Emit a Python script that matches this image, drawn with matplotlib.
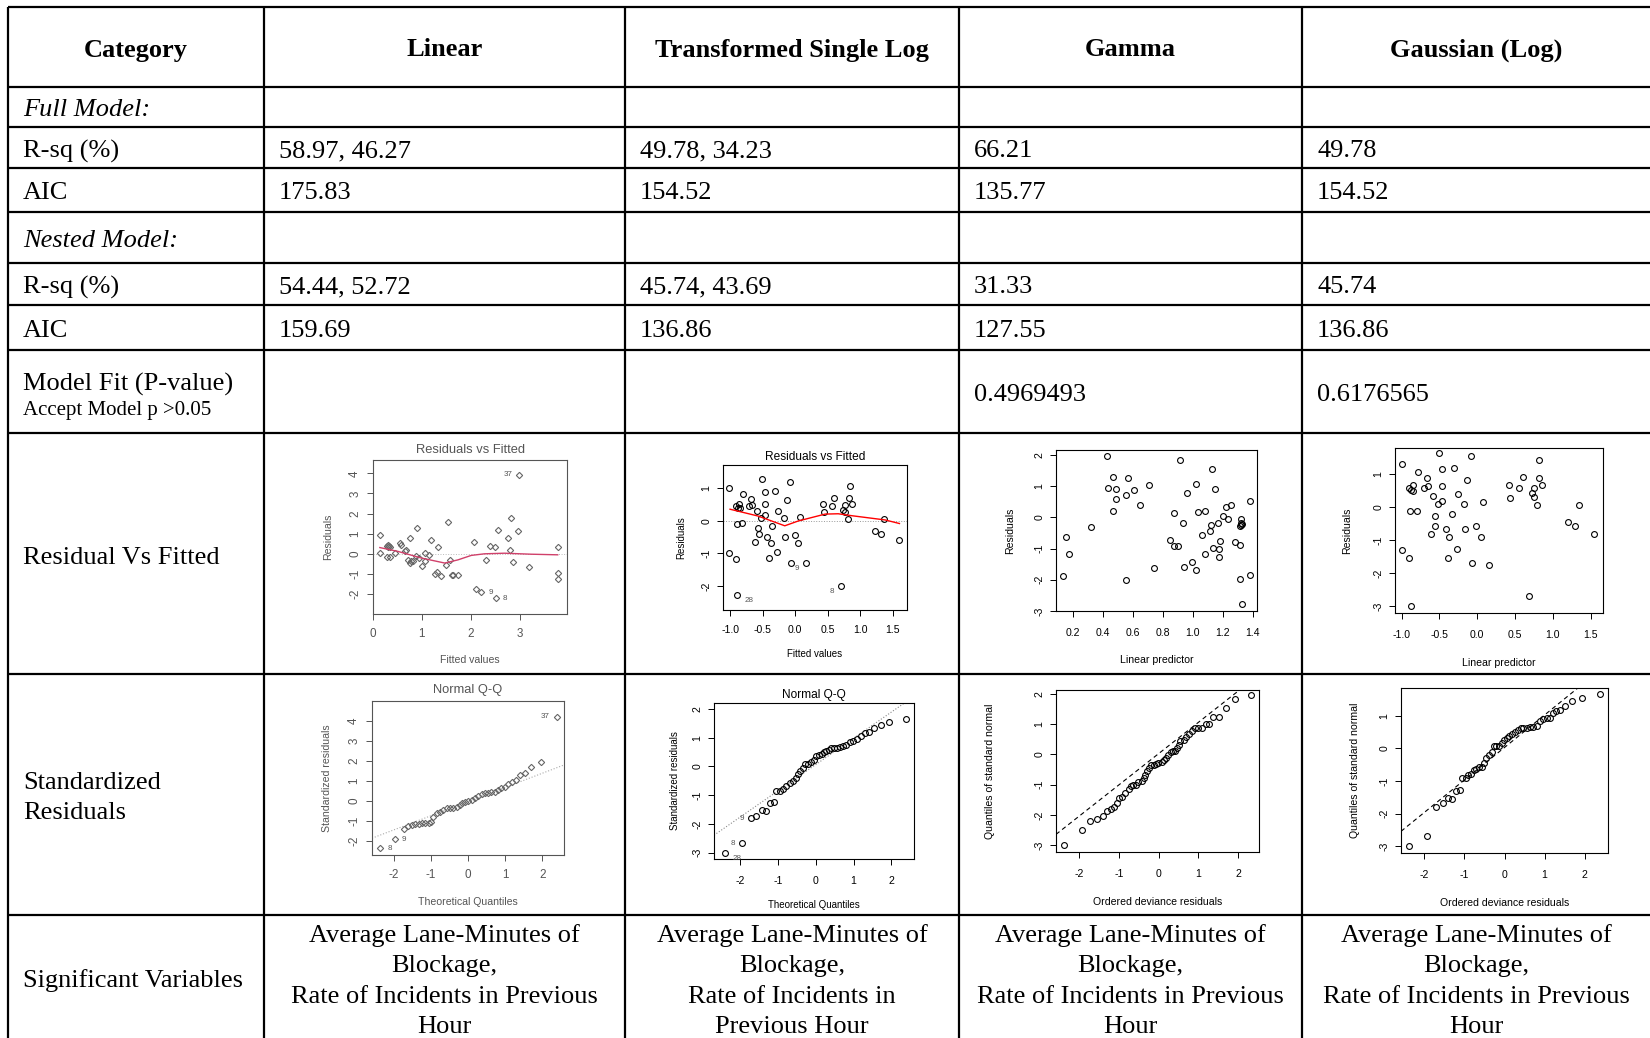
import matplotlib
matplotlib.use("Agg")
import matplotlib.pyplot as plt

plt.rcParams['axes.unicode_minus'] = False

W, H = 1650, 1038
SERIF = 'Liberation Serif'
SANS = 'Liberation Sans'

# ---------- table text ----------
headers = ["Category", "Linear", "Transformed Single Log", "Gamma", "Gaussian (Log)"]
rsq_full = ["58.97, 46.27", "49.78, 34.23", "66.21", "49.78"]
aic_full = ["175.83", "154.52", "135.77", "154.52"]
rsq_nested = ["54.44, 52.72", "45.74, 43.69", "31.33", "45.74"]
aic_nested = ["159.69", "136.86", "127.55", "136.86"]
p_values = ["", "", "0.4969493", "0.6176565"]
sig_vars = [
    "Average Lane-Minutes of\nBlockage,\nRate of Incidents in Previous\nHour",
    "Average Lane-Minutes of\nBlockage,\nRate of Incidents in\nPrevious Hour",
    "Average Lane-Minutes of\nBlockage,\nRate of Incidents in Previous\nHour",
    "Average Lane-Minutes of\nBlockage,\nRate of Incidents in Previous\nHour",
]

# ---------- Linear: residuals vs fitted ----------
lin_fit = [0.15, 0.15, 0.28, 0.29, 0.30, 0.31, 0.33, 0.34, 0.35, 0.44,
           0.55, 0.58, 0.65, 0.68, 0.72, 0.76, 0.76, 0.78, 0.82, 0.89,
           0.90, 0.94, 1.01, 1.06, 1.06, 1.14, 1.19, 1.27, 1.30, 1.33,
           1.40, 1.50, 1.53, 1.57, 1.62, 1.64, 1.74, 2.07, 2.11, 2.22,
           2.32, 2.39, 2.49, 2.52, 2.56, 2.76, 2.80, 2.83, 2.86, 2.97,
           2.99, 3.20, 3.78, 3.78, 3.78]
lin_res = [0.94, 0.03, 0.40, -0.18, 0.42, 0.36, 0.38, -0.18, 0.33, 0.02,
           0.56, 0.45, 0.15, 0.20, -0.30, 0.78, -0.46, -0.35, -0.38, -0.13,
           1.30, -0.21, -0.63, 0.03, -0.38, -0.05, 0.69, -1.01, -0.91, 0.33,
           -1.12, -0.55, 1.57, -0.30, -1.04, -1.04, -1.07, 0.61, -1.75, -1.90,
           -0.30, 0.41, 0.36, -2.20, 1.19, 0.78, 0.20, 1.80, -0.41, 1.11,
           3.92, -0.68, 0.33, -0.96, -1.24]
lin_smooth_x = [0.14, 0.51, 0.99, 1.47, 1.74, 2.01, 2.28, 2.69, 3.24, 3.78]
lin_smooth_y = [0.31, 0.12, -0.21, -0.46, -0.30, -0.08, 0.00, 0.03, -0.02, -0.05]
lin_labels = [(39, "9", 'r'), (43, "8", 'r'), (50, "37", 'l')]

# ---------- Transformed single log: residuals vs fitted ----------
tr_fit = [-1.01, -1.01, -0.91, -0.90, -0.91, -0.89, -0.88, -0.86, -0.85, -0.80,
          -0.81, -0.71, -0.68, -0.66, -0.62, -0.59, -0.57, -0.56, -0.52, -0.51,
          -0.47, -0.47, -0.47, -0.43, -0.40, -0.37, -0.35, -0.31, -0.28, -0.26,
          -0.17, -0.16, -0.13, -0.08, -0.07, -0.01, 0.05, 0.07, 0.16, 0.43,
          0.44, 0.56, 0.60, 0.71, 0.74, 0.77, 0.77, 0.81, 0.83, 0.84,
          0.87, 1.22, 1.32, 1.37, 1.59]
tr_res = [1.00, -0.98, 0.46, -0.10, -1.17, -2.28, 0.41, 0.52, 0.39, 0.83,
          -0.07, 0.46, 0.67, 0.49, -0.64, 0.29, -0.21, -0.41, 0.08, 1.28,
          0.88, 0.51, 0.18, -0.49, -1.13, -0.69, -0.15, 0.92, -0.96, 0.31,
          0.08, -0.49, 0.65, 1.21, -1.28, -0.43, -0.68, 0.13, -1.30, 0.52,
          0.26, 0.46, 0.72, -1.99, 0.34, 0.49, 0.27, 0.06, 0.70, 1.08,
          0.52, -0.30, -0.39, 0.06, -0.58]
tr_smooth_x = [-1.00, -0.57, -0.16, 0.05, 0.46, 0.66, 0.87, 1.38, 1.60]
tr_smooth_y = [0.36, 0.15, -0.15, 0.00, 0.21, 0.22, 0.16, 0.03, -0.08]
tr_labels = [(5, "28", 'rb'), (38, "9", 'lb'), (43, "8", 'lb')]

# ---------- Gamma: residuals vs linear predictor ----------
gam_lp = [0.133, 0.155, 0.171, 0.32, 0.427, 0.432, 0.467, 0.467, 0.49, 0.49,
          0.556, 0.556, 0.565, 0.61, 0.65, 0.706, 0.739, 0.85, 0.877, 0.877,
          0.90, 0.913, 0.935, 0.94, 0.96, 0.995, 1.02, 1.024, 1.033, 1.064,
          1.08, 1.082, 1.118, 1.122, 1.128, 1.133, 1.15, 1.17, 1.175, 1.175,
          1.18, 1.20, 1.22, 1.233, 1.256, 1.282, 1.313, 1.313, 1.322, 1.322,
          1.322, 1.33, 1.318, 1.331, 1.385, 1.385]
gam_res = [-1.87, -0.63, -1.17, -0.30, 1.98, 0.93, 1.30, 0.19, 0.90, 0.60,
           -2.00, 0.72, 1.26, 0.87, 0.40, 1.03, -1.63, -0.71, 0.14, -0.93,
           -0.93, 1.85, -0.19, -1.60, 0.77, -1.44, -1.68, 1.06, 0.17, -0.56,
           -1.16, 0.20, -0.44, -0.23, 1.55, -0.98, 0.90, -0.19, -1.01, -1.28,
           -0.76, 0.05, 0.32, -0.05, 0.40, -0.79, -0.89, -0.29, -0.06, -0.18,
           -0.24, -0.21, -1.96, -2.77, 0.52, -1.85]

# ---------- Gaussian (log): residuals vs linear predictor ----------
gau_lp = [-0.99, -0.99, -0.90, -0.90, -0.89, -0.88, -0.88, -0.85, -0.85, -0.80,
          -0.78, -0.71, -0.67, -0.65, -0.61, -0.58, -0.56, -0.56, -0.52, -0.50,
          -0.46, -0.46, -0.46, -0.42, -0.39, -0.37, -0.34, -0.31, -0.27, -0.26,
          -0.17, -0.16, -0.13, -0.08, -0.07, -0.02, 0.05, 0.07, 0.15, 0.42,
          0.43, 0.55, 0.60, 0.69, 0.72, 0.75, 0.75, 0.79, 0.81, 0.82,
          0.85, 1.20, 1.29, 1.34, 1.55]
gau_res = [1.31, -1.29, 0.60, -1.52, -0.12, -2.98, 0.52, 0.50, 0.69, -0.10,
           1.07, 0.60, 0.89, 0.64, -0.81, 0.35, -0.27, -0.56, 0.09, 1.65,
           1.15, 0.64, 0.20, -0.64, -1.52, -0.89, -0.20, 1.18, -1.26, 0.41,
           0.09, -0.65, 0.84, 1.55, -1.67, -0.57, -0.89, 0.17, -1.76, 0.69,
           0.30, 0.59, 0.91, -2.67, 0.44, 0.60, 0.32, 0.06, 0.88, 1.45,
           0.67, -0.44, -0.56, 0.06, -0.81]

# ---------- Q-Q plots ----------
lin_qx = [-2.36, -1.96, -1.73, -1.60, -1.51, -1.42, -1.33, -1.24, -1.15, -1.06,
          -0.99, -0.93, -0.84, -0.75, -0.66, -0.57, -0.48, -0.39, -0.30, -0.21,
          -0.15, -0.08, 0.01, 0.10, 0.19, 0.28, 0.37, 0.46, 0.54, 0.63,
          0.72, 0.81, 0.90, 0.99, 1.08, 1.17, 1.28, 1.39, 1.53, 1.69,
          1.96, 2.38]
lin_qy = [-2.36, -1.91, -1.39, -1.24, -1.20, -1.16, -1.13, -1.11, -1.08, -1.08,
          -1.03, -0.78, -0.61, -0.53, -0.45, -0.37, -0.37, -0.33, -0.28, -0.20,
          -0.12, -0.03, 0.00, 0.05, 0.17, 0.27, 0.33, 0.38, 0.38, 0.43,
          0.46, 0.55, 0.63, 0.71, 0.83, 0.93, 1.05, 1.29, 1.38, 1.71,
          1.93, 4.20]
lin_qline = (-0.03, 0.707)
lin_qlabels = [(0, "8", 'r'), (1, "9", 'r'), (41, "37", 'l')]

tr_qx = [-2.40, -1.96, -1.73, -1.58, -1.43, -1.31, -1.22, -1.12, -1.05, -0.96,
         -0.87, -0.78, -0.69, -0.60, -0.52, -0.47, -0.41, -0.34, -0.30, -0.21,
         -0.12, -0.05, 0.01, 0.07, 0.15, 0.21, 0.28, 0.34, 0.41, 0.48,
         0.56, 0.63, 0.72, 0.81, 0.90, 0.98, 1.09, 1.19, 1.29, 1.41,
         1.54, 1.72, 1.94, 2.40]
tr_qy = [-3.00, -2.67, -1.80, -1.71, -1.51, -1.55, -1.28, -1.24, -0.87, -0.85,
         -0.79, -0.67, -0.58, -0.52, -0.41, -0.27, -0.17, -0.06, 0.08, 0.08,
         0.15, 0.21, 0.35, 0.41, 0.43, 0.50, 0.55, 0.58, 0.64, 0.64,
         0.66, 0.69, 0.71, 0.76, 0.85, 0.90, 0.95, 1.07, 1.15, 1.19,
         1.34, 1.45, 1.56, 1.67]
tr_qline = (0.07, 0.912)
tr_qlabels = [(0, "28", 'rb'), (1, "8", 'l'), (2, "9", 'l')]

gam_qx = [-2.39, -1.93, -1.72, -1.56, -1.41, -1.31, -1.21, -1.12, -1.05, -0.99,
          -0.92, -0.85, -0.76, -0.69, -0.64, -0.57, -0.51, -0.43, -0.38, -0.34,
          -0.30, -0.24, -0.20, -0.13, -0.07, -0.01, 0.08, 0.13, 0.18, 0.24,
          0.30, 0.37, 0.41, 0.47, 0.52, 0.55, 0.64, 0.70, 0.77, 0.83,
          0.91, 0.99, 1.10, 1.19, 1.27, 1.37, 1.52, 1.69, 1.92, 2.33]
gam_qy = [-3.00, -2.48, -2.21, -2.12, -2.02, -1.88, -1.80, -1.74, -1.60, -1.44,
          -1.42, -1.27, -1.13, -1.05, -1.00, -1.00, -0.91, -0.87, -0.78, -0.67,
          -0.56, -0.45, -0.34, -0.34, -0.31, -0.29, -0.25, -0.18, -0.10, -0.01,
          0.08, 0.12, 0.10, 0.23, 0.32, 0.43, 0.48, 0.59, 0.67, 0.76,
          0.87, 0.87, 0.89, 1.01, 1.00, 1.25, 1.25, 1.53, 1.84, 1.95]
gam_qline = (0.03, 1.03)

gau_qx = [-2.39, -1.93, -1.72, -1.54, -1.42, -1.30, -1.21, -1.11, -1.05, -0.97,
          -0.90, -0.84, -0.76, -0.70, -0.64, -0.57, -0.51, -0.45, -0.39, -0.32,
          -0.26, -0.20, -0.13, -0.07, -0.02, 0.05, 0.12, 0.19, 0.26, 0.34,
          0.40, 0.46, 0.55, 0.63, 0.71, 0.80, 0.88, 0.96, 1.06, 1.13,
          1.21, 1.28, 1.38, 1.52, 1.69, 1.94, 2.37]
gau_qy = [-3.00, -2.69, -1.78, -1.67, -1.52, -1.54, -1.30, -1.27, -0.91, -0.89,
          -0.81, -0.78, -0.65, -0.63, -0.57, -0.58, -0.45, -0.30, -0.19, -0.11,
          0.06, 0.08, 0.09, 0.16, 0.27, 0.32, 0.37, 0.44, 0.50, 0.57,
          0.62, 0.62, 0.64, 0.67, 0.67, 0.70, 0.85, 0.90, 0.93, 0.93,
          1.08, 1.16, 1.18, 1.29, 1.44, 1.54, 1.66]
gau_qline = (0.03, 0.995)

# ---------- figure + table grid ----------
fig = plt.figure(figsize=(16.5, 10.38), dpi=100)
bg = fig.add_axes([0, 0, 1, 1])
bg.set_xlim(0, W)
bg.set_ylim(H, 0)
bg.axis('off')

cols = [8, 264, 625, 959, 1302]
rows = [7, 87, 127, 168, 212, 263, 305, 350, 433, 674, 915]
for y in rows:
    bg.plot([cols[0], W], [y, y], color='black', lw=1.6, solid_capstyle='butt')
for x in cols:
    bg.plot([x, x], [rows[0], H], color='black', lw=1.6, solid_capstyle='butt')

edges = cols + [W]
centers = [(edges[i] + edges[i + 1]) / 2 for i in range(5)]
lefts = [c + 15 for c in cols]

def cell(x, y, s, **kw):
    kw.setdefault('fontsize', 19)
    kw.setdefault('ha', 'left')
    bg.text(x, y + 3, s, family=SERIF, va='center', **kw)

for i, h in enumerate(headers):
    cell(centers[i], 47, h, ha='center', fontweight='bold')

cell(lefts[0], 107, "Full Model:", style='italic')
cell(lefts[0], 148, "R-sq (%)")
cell(lefts[0], 190, "AIC")
cell(lefts[0], 238, "Nested Model:", style='italic')
cell(lefts[0], 284, "R-sq (%)")
cell(lefts[0], 328, "AIC")
cell(lefts[0], 381, "Model Fit (P-value)")
cell(lefts[0], 408, "Accept Model p >0.05", fontsize=15)
cell(lefts[0], 555, "Residual Vs Fitted")
cell(lefts[0], 795, "Standardized\nResiduals", linespacing=1.42)
cell(lefts[0], 978, "Significant Variables")

for i in range(4):
    cell(lefts[i + 1], 148, rsq_full[i])
    cell(lefts[i + 1], 190, aic_full[i])
    cell(lefts[i + 1], 284, rsq_nested[i])
    cell(lefts[i + 1], 328, aic_nested[i])
    cell(lefts[i + 1], 392, p_values[i])
    cell(centers[i + 1], 978, sig_vars[i], ha='center', linespacing=1.49)


# ---------- small R-style plots ----------
def r_axes(box, xlim, ylim, xt, yt, fmt, color='black', fs=7.6, xpad=7):
    x0, y0, x1, y1 = box
    ax = fig.add_axes([x0 / W, 1 - y1 / H, (x1 - x0) / W, (y1 - y0) / H])
    ax.set_xlim(xlim)
    ax.set_ylim(ylim)
    ax.set_xticks(xt)
    ax.set_xticklabels([fmt.format(v) for v in xt], family=SANS)
    ax.set_yticks(yt)
    ax.set_yticklabels([str(v) for v in yt], family=SANS, rotation=90, va='center')
    ax.tick_params(direction='out', length=4.5, width=0.7, labelsize=fs, colors=color)
    ax.tick_params(axis='x', pad=xpad)
    ax.tick_params(axis='y', pad=4)
    for s in ax.spines.values():
        s.set_linewidth(0.8)
        s.set_color(color)
    return ax

def labels(box, title, xlab, ylab, tpos, xpos, ypos, color='black', tfs=9, fs=7.6):
    x0, y0, x1, y1 = box
    if title:
        bg.text((x0 + x1) / 2, tpos, title, family=SANS, fontsize=tfs, color=color,
                ha='center', va='center')
    bg.text((x0 + x1) / 2, xpos, xlab, family=SANS, fontsize=fs, color=color,
            ha='center', va='center')
    bg.text(ypos, (y0 + y1) / 2, ylab, family=SANS, fontsize=fs, color=color,
            ha='center', va='center', rotation=90)

def pts(ax, x, y, marker='o', color='black', ms=4.2):
    ax.plot(x, y, ls='none', marker=marker, ms=ms, mfc='none', mec=color, mew=0.8)

def tags(ax, x, y, lab, color='#555555'):
    for i, t, side in lab:
        dx = -5 if side.startswith('l') else 5
        dy = -4 if side.endswith('b') else 0
        ax.annotate(t, (x[i], y[i]), xytext=(dx, dy), textcoords='offset points',
                    ha='right' if dx < 0 else 'left', va='center', fontsize=5.8,
                    family=SANS, color=color)

# Linear residuals vs fitted
b1 = (373, 460, 567, 614)
a1 = r_axes(b1, (0, 3.97), (-2.99, 4.66), [0, 1, 2, 3], [-2, -1, 0, 1, 2, 3, 4],
            "{:d}", color='#555555', fs=8.4, xpad=5.5)
a1.axhline(0, color='#bbbbbb', lw=0.7, ls=':')
pts(a1, lin_fit, lin_res, marker='D', color='#666666', ms=3.2)
a1.plot(lin_smooth_x, lin_smooth_y, color='#d0406a', lw=1.0)
tags(a1, lin_fit, lin_res, lin_labels)
labels(b1, "Residuals vs Fitted", "Fitted values", "Residuals", 450, 660, 328,
       color='#555555', tfs=9.3)

# Transformed residuals vs fitted
b2 = (723, 465, 907, 610)
a2 = r_axes(b2, (-1.108, 1.716), (-2.74, 1.72), [-1.0, -0.5, 0.0, 0.5, 1.0, 1.5],
            [-2, -1, 0, 1], "{:.1f}", xpad=6.5)
a2.axhline(0, color='#999999', lw=0.7, ls=':')
pts(a2, tr_fit, tr_res)
a2.plot(tr_smooth_x, tr_smooth_y, color='red', lw=1.0)
tags(a2, tr_fit, tr_res, tr_labels)
labels(b2, "Residuals vs Fitted", "Fitted values", "Residuals", 457, 654, 681,
       tfs=8.6, fs=7.0)

# Gamma residuals vs linear predictor
b3 = (1056, 450, 1257, 611)
a3 = r_axes(b3, (0.0864, 1.429), (-2.98, 2.16), [0.2, 0.4, 0.6, 0.8, 1.0, 1.2, 1.4],
            [-3, -2, -1, 0, 1, 2], "{:.1f}", xpad=8)
pts(a3, gam_lp, gam_res)
labels(b3, None, "Linear predictor", "Residuals", 0, 660, 1010)

# Gaussian residuals vs linear predictor
b4 = (1395, 448, 1603, 613)
a4 = r_axes(b4, (-1.088, 1.663), (-3.2, 1.8), [-1.0, -0.5, 0.0, 0.5, 1.0, 1.5],
            [-3, -2, -1, 0, 1], "{:.1f}", xpad=8)
pts(a4, gau_lp, gau_res)
labels(b4, None, "Linear predictor", "Residuals", 0, 663, 1347)

# Linear Q-Q
b5 = (372, 701, 564, 855)
a5 = r_axes(b5, (-2.58, 2.58), (-2.69, 4.98), [-2, -1, 0, 1, 2],
            [-2, -1, 0, 1, 2, 3, 4], "{:d}", color='#555555', fs=8.4, xpad=5.5)
a5.axline((0, lin_qline[0]), slope=lin_qline[1], color='#aaaaaa', lw=0.8, ls=':')
pts(a5, lin_qx, lin_qy, marker='D', color='#666666', ms=3.2)
tags(a5, lin_qx, lin_qy, lin_qlabels)
labels(b5, "Normal Q-Q", "Theoretical Quantiles", "Standardized residuals", 690, 902,
       327, color='#555555', tfs=9.3)

# Transformed Q-Q
b6 = (714, 703, 914, 859)
a6 = r_axes(b6, (-2.7, 2.6), (-3.22, 2.21), [-2, -1, 0, 1, 2],
            [-3, -2, -1, 0, 1, 2], "{:d}", xpad=7.5)
a6.axline((0, tr_qline[0]), slope=tr_qline[1], color='#888888', lw=0.8, ls=':')
pts(a6, tr_qx, tr_qy)
tags(a6, tr_qx, tr_qy, tr_qlabels)
labels(b6, "Normal Q-Q", "Theoretical Quantiles", "Standardized residuals", 695, 905,
       675, tfs=8.6, fs=7.0)

# Gamma Q-Q
b7 = (1056, 690, 1259, 852)
a7 = r_axes(b7, (-2.59, 2.53), (-3.22, 2.13), [-2, -1, 0, 1, 2],
            [-3, -2, -1, 0, 1, 2], "{:d}", xpad=8)
a7.axline((0, gam_qline[0]), slope=gam_qline[1], color='black', lw=0.8, ls=(0, (4, 3)))
pts(a7, gam_qx, gam_qy)
labels(b7, None, "Ordered deviance residuals", "Quantiles of standard normal", 0,
       902, 990)

# Gaussian Q-Q
b8 = (1401, 688, 1608, 853)
a8 = r_axes(b8, (-2.58, 2.58), (-3.2, 1.85), [-2, -1, 0, 1, 2],
            [-3, -2, -1, 0, 1], "{:d}", xpad=8)
a8.axline((0, gau_qline[0]), slope=gau_qline[1], color='black', lw=0.8, ls=(0, (4, 3)))
pts(a8, gau_qx, gau_qy)
labels(b8, None, "Ordered deviance residuals", "Quantiles of standard normal", 0,
       903, 1355)

fig.savefig("out.png", dpi=100)
